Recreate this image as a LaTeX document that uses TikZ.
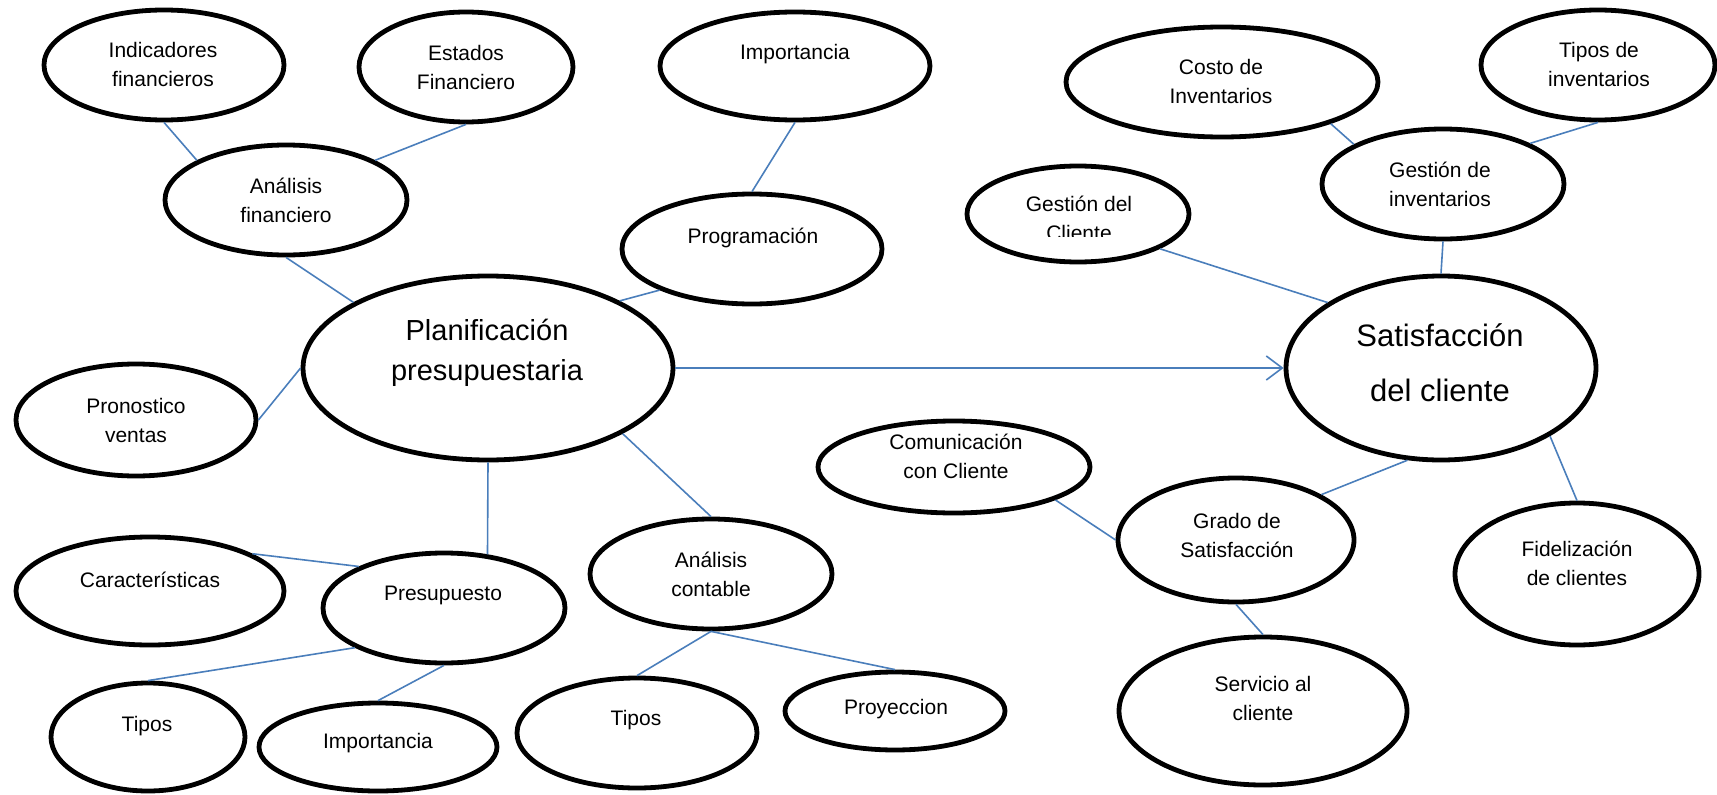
\documentclass[tikz,border=0pt]{standalone}
\usepackage{fontspec}
\setmainfont{Liberation Sans}
\usetikzlibrary{shapes.geometric,arrows.meta}
\definecolor{conn}{HTML}{4A7EBB}
\begin{document}
\begin{tikzpicture}[x=1pt,y=-1pt,
  ell/.style={draw=black, line width=4.8pt, ellipse, inner sep=0pt},
  txt/.style={align=center, inner sep=0pt, font=\fontsize{21}{29}\selectfont},
  big/.style={align=center, inner sep=0pt, font=\fontsize{29}{40}\selectfont},
  huge/.style={align=center, inner sep=0pt, font=\fontsize{31}{55}\selectfont},
  con/.style={draw=conn, line width=1.6pt}]
\useasboundingbox (0,0) rectangle (1717,795);

% ellipses
\node[ell, minimum width=240pt, minimum height=110pt] (ind)  at (164,65) {};
\node[ell, minimum width=214pt, minimum height=110pt] (est)  at (466,67) {};
\node[ell, minimum width=270pt, minimum height=108pt] (impt) at (795,66) {};
\node[ell, minimum width=242pt, minimum height=110pt] (anf)  at (286,200) {};
\node[ell, minimum width=260pt, minimum height=110pt] (prog) at (752,249) {};
\node[ell, minimum width=370pt, minimum height=184pt] (plan) at (488,368) {};
\node[ell, minimum width=240pt, minimum height=112pt] (pron) at (136,420) {};
\node[ell, minimum width=312pt, minimum height=110pt] (cost) at (1222,82) {};
\node[ell, minimum width=234pt, minimum height=110pt] (tinv) at (1598,65) {};
\node[ell, minimum width=242pt, minimum height=110pt] (ginv) at (1443,184) {};
\node[ell, minimum width=222pt, minimum height=96pt]  (gcli) at (1078,214) {};
\node[ell, minimum width=310pt, minimum height=184pt] (sat)  at (1441,368) {};
\node[ell, minimum width=268pt, minimum height=108pt] (car)  at (150,591) {};
\node[ell, minimum width=242pt, minimum height=110pt] (pres) at (444,608) {};
\node[ell, minimum width=242pt, minimum height=110pt] (anc)  at (711,574) {};
\node[ell, minimum width=194pt, minimum height=108pt] (tip1) at (148,737) {};
\node[ell, minimum width=238pt, minimum height=88pt]  (impb) at (378,747) {};
\node[ell, minimum width=240pt, minimum height=110pt] (tip2) at (637,733) {};
\node[ell, minimum width=220pt, minimum height=78pt]  (proy) at (895,711) {};
\node[ell, minimum width=272pt, minimum height=92pt]  (com)  at (954,467) {};
\node[ell, minimum width=236pt, minimum height=124pt] (grado) at (1236,540) {};
\node[ell, minimum width=244pt, minimum height=142pt] (fid)  at (1577,574) {};
\node[ell, minimum width=288pt, minimum height=148pt] (serv) at (1263,711) {};

% texts
\node[txt] (t-ind)  at (163,64.5) {Indicadores\\financieros};
\node[txt] (t-est)  at (466,67) {Estados\\Financiero};
\node[txt] (t-impt) at (795,54) {Importancia};
\node[txt] (t-anf)  at (286,200.5) {Análisis\\financiero};
\node[txt] (t-prog) at (753,237.5) {Programación};
\node[big] (t-plan) at (487,353) {Planificación\\presupuestaria};
\node[txt] (t-pron) at (136,420) {Pronostico\\ventas};
\node[txt] (t-cost) at (1221,81.5) {Costo de\\Inventarios};
\node[txt] (t-tinv) at (1599,64) {Tipos de\\inventarios};
\node[txt] (t-ginv) at (1440,184) {Gestión de\\inventarios};
\begin{scope}
  \clip (960,150) rectangle (1200,236);
  \node[txt] (t-gcli) at (1079,218.5) {Gestión del\\Cliente};
\end{scope}
\node[huge] (t-sat)  at (1440,362.5) {Satisfacción\\del cliente};
\node[txt] (t-car)  at (150,580) {Características};
\node[txt] (t-pres) at (443,595.5) {Presupuesto};
\node[txt] (t-anc)  at (711,574) {Análisis\\contable};
\node[txt] (t-tip1) at (147,726) {Tipos};
\node[txt] (t-impb) at (378,743.5) {Importancia};
\node[txt] (t-tip2) at (636,720.5) {Tipos};
\node[txt] (t-proy) at (896,709) {Proyeccion};
\node[txt] (t-com)  at (956,456.5) {Comunicación\\con Cliente};
\node[txt] (t-grado) at (1237,535) {Grado de\\Satisfacción};
\node[txt] (t-fid)  at (1577,563) {Fidelización\\de clientes};
\node[txt] (t-serv) at (1263,698) {Servicio al\\cliente};

% connectors
\draw[con] (ind.-90) -- (anf.156);
\draw[con] (est.-90) -- (anf.24);
\draw[con] (anf.-90) -- (plan.154);
\draw[con] (impt.-90) -- (prog.90);
\draw[con] (prog.204) -- (plan.27);
\draw[con] (pron.0) -- (plan.180);
\draw[con] (plan.-90) -- (pres.51);
\draw[con] (plan.-26) -- (anc.90);
\draw[con] (car.20) -- (pres.154);
\draw[con] (pres.204) -- (tip1.90);
\draw[con] (pres.-90) -- (impb.90);
\draw[con] (anc.-90) -- (tip2.90);
\draw[con] (anc.-90) -- (proy.90);
\draw[con] (cost.-21) -- (ginv.156);
\draw[con] (tinv.-90) -- (ginv.25);
\draw[con] (ginv.-90) -- (sat.90);
\draw[con] (gcli.-23) -- (sat.150);
\draw[con] (sat.-110) -- (grado.28);
\draw[con] (sat.-32) -- (fid.90);
\draw[con] (com.-18) -- (grado.180);
\draw[con] (grado.-90) -- (serv.90);
\draw[con, -{Straight Barb[length=16pt,width=24pt]}] (plan.east) -- (sat.west);
\end{tikzpicture}
\end{document}
